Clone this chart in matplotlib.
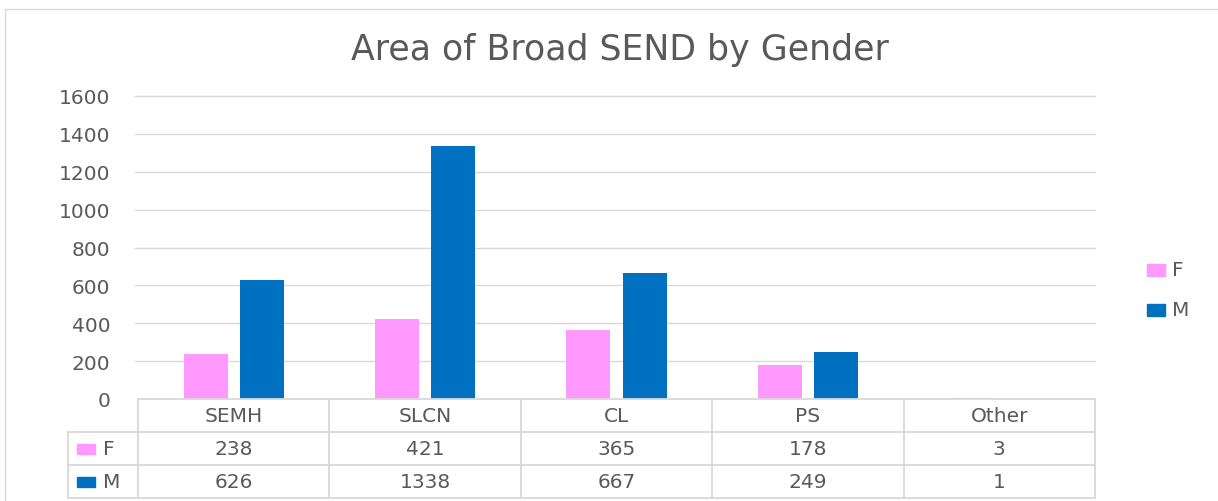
import matplotlib
matplotlib.use("Agg")
import matplotlib.pyplot as plt
from matplotlib.patches import Rectangle
from matplotlib.lines import Line2D

categories = ["SEMH", "SLCN", "CL", "PS", "Other"]
series_names = ["F", "M"]
f_values = [238, 421, 365, 178, 3]
m_values = [626, 1338, 667, 249, 1]
y_ticks = [0, 200, 400, 600, 800, 1000, 1200, 1400, 1600]
title = "Area of Broad SEND by Gender"

colors = {"F": "#FF99FF", "M": "#0070C0"}
text_color = "#595959"
grid_color = "#D9D9D9"

plt.rcParams['font.family'] = ['DejaVu Sans']
FS = 14.5

W, H = 1218, 502
fig = plt.figure(figsize=(W / 100, H / 100), dpi=100)

def fx(px):
    return px / W

def fy(py):
    return 1 - py / H

# outer chart border (right and bottom edges fall outside the image)
fig.add_artist(Rectangle((fx(5), fy(510)), fx(1225 - 5), (510 - 10) / H,
                         transform=fig.transFigure, fill=False,
                         edgecolor="#D9D9D9", linewidth=1.0))

left_px, right_px = 138, 1095
top_px, bot_px = 97, 400
ax = fig.add_axes([fx(left_px), fy(bot_px), (right_px - left_px) / W, (bot_px - top_px) / H])
n = len(categories)
xs = list(range(n))
off, bw = 0.147, 0.23
ax.bar([x - off for x in xs], f_values, width=bw, color=colors["F"], zorder=3)
ax.bar([x + off for x in xs], m_values, width=bw, color=colors["M"], zorder=3)
ax.set_xlim(-0.5, n - 0.5)
ax.set_ylim(0, 1600)
ax.set_yticks(y_ticks)
ax.set_yticklabels([str(t) for t in y_ticks], fontsize=FS, color=text_color)
ax.tick_params(axis='y', length=0, pad=20)
ax.set_xticks([])
for s in ax.spines.values():
    s.set_visible(False)
for t in y_ticks[1:]:
    ax.axhline(t, color=grid_color, linewidth=1.0, zorder=1, xmin=-0.003, clip_on=False)

# data table
tab_top, tab_bot = 400, 499
tab = fig.add_axes([fx(left_px), fy(tab_bot), (right_px - left_px) / W, (tab_bot - tab_top) / H])
tab.set_xlim(-0.5, n - 0.5)
tab.set_ylim(0, 3)
tab.axis('off')
lc = "#D9D9D9"
lw = 1.3
unit = (right_px - left_px) / n  # px per category
row_left = -0.5 - (left_px - 68) / unit
tab.add_line(Line2D([-0.5, n - 0.5], [3, 3], color=lc, lw=lw, clip_on=False))
for yv in [2, 1, 0]:
    tab.add_line(Line2D([row_left, n - 0.5], [yv, yv], color=lc, lw=lw, clip_on=False))
for i in range(n + 1):
    tab.add_line(Line2D([i - 0.5, i - 0.5], [0, 3], color=lc, lw=lw, clip_on=False))
tab.add_line(Line2D([row_left, row_left], [0, 2], color=lc, lw=lw, clip_on=False))

for i, c in enumerate(categories):
    tab.text(i, 2.5, c, ha='center', va='center', fontsize=FS, color=text_color)
    tab.text(i, 1.5, str(f_values[i]), ha='center', va='center', fontsize=FS, color=text_color)
    tab.text(i, 0.5, str(m_values[i]), ha='center', va='center', fontsize=FS, color=text_color)

row_h_px = (tab_bot - tab_top) / 3
for yv, name in [(1.5, "F"), (0.5, "M")]:
    sx = row_left + 9 / unit
    sh = 10 / row_h_px
    tab.add_patch(Rectangle((sx, yv - sh / 2), 18 / unit, sh, color=colors[name], clip_on=False))
    tab.text(sx + 26 / unit, yv, name, ha='left', va='center', fontsize=FS, color=text_color)

# legend
for py, name in [(271, "F"), (311, "M")]:
    fig.add_artist(Rectangle((fx(1147), fy(py + 6)), fx(18), 12 / H,
                             transform=fig.transFigure, color=colors[name]))
    fig.text(fx(1172), fy(py), name, ha='left', va='center', fontsize=FS, color=text_color)

fig.text(fx(620), fy(50), title, ha='center', va='center', fontsize=25, color=text_color)

fig.savefig("out.png", dpi=100)
